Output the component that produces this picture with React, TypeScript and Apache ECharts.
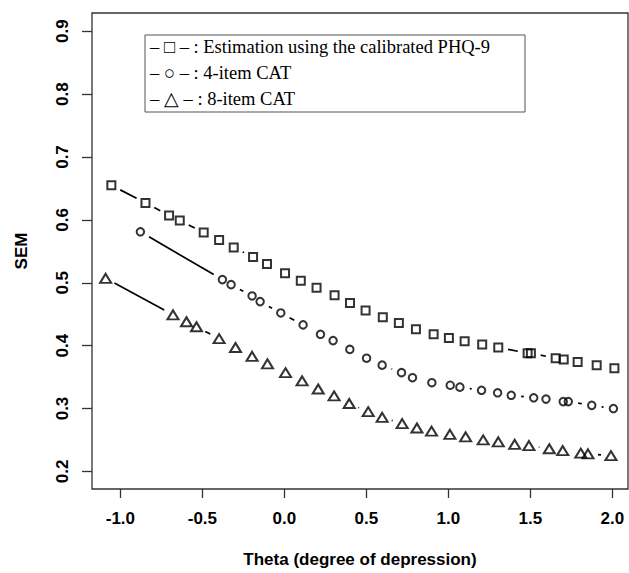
import React, { useEffect, useRef } from "react";
import * as echarts from "echarts";

// Theta values and SEM for the three methods
const thetaPHQ = [-1.055, -0.847, -0.703, -0.638, -0.492, -0.398, -0.309, -0.191, -0.106, 0.004, 0.1, 0.196, 0.306, 0.4, 0.495, 0.6, 0.698, 0.802, 0.91, 1.003, 1.099, 1.206, 1.304, 1.483, 1.503, 1.654, 1.703, 1.788, 1.904, 2.012];
const semPHQ = [0.655, 0.627, 0.607, 0.599, 0.58, 0.568, 0.556, 0.541, 0.53, 0.515, 0.503, 0.492, 0.48, 0.468, 0.456, 0.445, 0.436, 0.426, 0.418, 0.412, 0.407, 0.402, 0.397, 0.388, 0.388, 0.38, 0.378, 0.374, 0.369, 0.364];

const thetaCAT4 = [-0.878, -0.378, -0.325, -0.197, -0.148, -0.022, 0.114, 0.22, 0.297, 0.399, 0.501, 0.596, 0.714, 0.781, 0.899, 1.011, 1.07, 1.202, 1.3, 1.383, 1.52, 1.595, 1.7, 1.731, 1.874, 2.006];
const semCAT4 = [0.581, 0.505, 0.497, 0.479, 0.47, 0.452, 0.433, 0.418, 0.408, 0.394, 0.38, 0.369, 0.357, 0.349, 0.341, 0.337, 0.334, 0.329, 0.325, 0.321, 0.317, 0.315, 0.311, 0.311, 0.305, 0.3];

const thetaCAT8 = [-1.09, -0.679, -0.597, -0.536, -0.398, -0.298, -0.197, -0.103, 0.007, 0.108, 0.206, 0.303, 0.395, 0.511, 0.596, 0.718, 0.808, 0.897, 1.009, 1.105, 1.212, 1.304, 1.404, 1.491, 1.615, 1.697, 1.807, 1.851, 1.991];
const semCAT8 = [0.507, 0.449, 0.438, 0.43, 0.411, 0.397, 0.383, 0.371, 0.357, 0.344, 0.331, 0.32, 0.308, 0.295, 0.286, 0.276, 0.269, 0.264, 0.259, 0.255, 0.25, 0.247, 0.243, 0.241, 0.236, 0.233, 0.229, 0.228, 0.225];

const xTicks = [-1.0, -0.5, 0.0, 0.5, 1.0, 1.5, 2.0];
const yTicks = [0.2, 0.3, 0.4, 0.5, 0.6, 0.7, 0.8, 0.9];

const legendLines = [
  "\u2013 \u25A1 \u2013 : Estimation using the calibrated PHQ-9",
  "\u2013 \u25CB \u2013 : 4-item CAT",
  "\u2013 \u25B3 \u2013 : 8-item CAT",
];

const GAP = 10;
const INK = "#000";

function segments(xs: number[], ys: number[]) {
  const out: number[][] = [];
  for (let i = 0; i < xs.length - 1; i++) out.push([xs[i], ys[i], xs[i + 1], ys[i + 1]]);
  return out;
}

function renderSeg(_params: any, api: any) {
  const p1 = api.coord([api.value(0), api.value(1)]);
  const p2 = api.coord([api.value(2), api.value(3)]);
  const dx = p2[0] - p1[0];
  const dy = p2[1] - p1[1];
  const d = Math.hypot(dx, dy);
  if (d <= 2 * GAP + 0.5) return { type: "group", children: [] };
  const ux = dx / d;
  const uy = dy / d;
  return {
    type: "line",
    shape: { x1: p1[0] + ux * GAP, y1: p1[1] + uy * GAP, x2: p2[0] - ux * GAP, y2: p2[1] - uy * GAP },
    style: { stroke: INK, lineWidth: 1.7 },
  };
}

function lineSeries(xs: number[], ys: number[]) {
  return {
    type: "custom",
    renderItem: renderSeg,
    dimensions: ["x1", "y1", "x2", "y2"],
    encode: { x: [0, 2], y: [1, 3] },
    data: segments(xs, ys),
    silent: true,
    z: 2,
  };
}

function pointSeries(xs: number[], ys: number[], symbol: string, size: any) {
  return {
    type: "scatter",
    data: xs.map((x, i) => [x, ys[i]]),
    symbol,
    symbolSize: size,
    itemStyle: { color: "transparent", borderColor: INK, borderWidth: 2 },
    z: 3,
  };
}

export default function App() {
  const ref = useRef<HTMLDivElement>(null);
  useEffect(() => {
    if (!ref.current) return;
    const chart = echarts.init(ref.current, undefined, { renderer: "svg" });
    const tickFont = { fontFamily: "Liberation Sans", fontWeight: "bold", fontSize: 17, color: "#000" };
    chart.setOption({
      animation: false,
      backgroundColor: "#fff",
      grid: { left: 92, top: 13, width: 536, height: 480, show: true, borderColor: "#333", borderWidth: 1.3 },
      xAxis: {
        type: "value",
        min: -1.173,
        max: 2.095,
        name: "Theta (degree of depression)",
        nameLocation: "middle",
        nameGap: 62,
        nameTextStyle: { ...tickFont },
        axisLine: { show: false, onZero: false },
        splitLine: { show: false },
        axisTick: { show: true, length: 9, customValues: xTicks, lineStyle: { color: "#333", width: 1.3 } },
        axisLabel: { ...tickFont, margin: 21, customValues: xTicks, formatter: (v: number) => v.toFixed(1) },
      },
      yAxis: {
        type: "value",
        min: 0.172,
        max: 0.929,
        name: "SEM",
        nameLocation: "middle",
        nameGap: 62,
        nameTextStyle: { ...tickFont },
        axisLine: { show: false, onZero: false },
        splitLine: { show: false },
        axisTick: { show: true, length: 10, customValues: yTicks, lineStyle: { color: "#333", width: 1.3 } },
        axisLabel: { ...tickFont, margin: 21, rotate: 90, customValues: yTicks, formatter: (v: number) => v.toFixed(1) },
      },
      graphic: [
        {
          type: "rect",
          shape: { x: 145, y: 35, width: 380, height: 77 },
          style: { fill: "#fff", stroke: "#555", lineWidth: 1 },
          z: 10,
        },
        ...legendLines.map((t, i) => ({
          type: "text",
          x: 150,
          y: 47 + i * 26,
          style: { text: t, fontFamily: "Liberation Serif", fontSize: 18.5, fill: "#000", verticalAlign: "middle" },
          z: 11,
        })),
      ],
      series: [
        lineSeries(thetaPHQ, semPHQ),
        lineSeries(thetaCAT4, semCAT4),
        lineSeries(thetaCAT8, semCAT8),
        pointSeries(thetaPHQ, semPHQ, "rect", 8),
        pointSeries(thetaCAT4, semCAT4, "circle", 7.5),
        pointSeries(thetaCAT8, semCAT8, "triangle", [11, 9]),
      ],
    });
    return () => chart.dispose();
  }, []);
  return <div ref={ref} style={{ position: "fixed", left: 0, top: 0, width: 629, height: 573 }} />;
}
